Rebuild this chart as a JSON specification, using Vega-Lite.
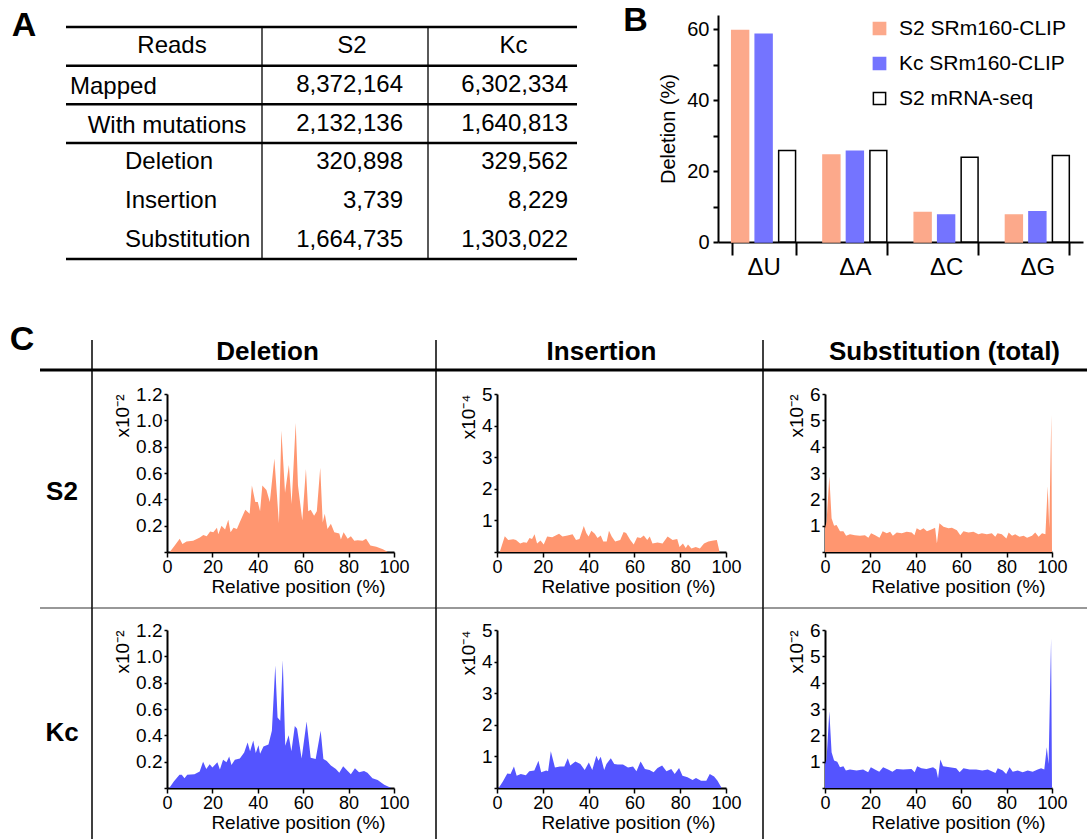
{
"$schema": "https://vega.github.io/schema/vega-lite/v6.json",
"padding": 0,
"background": "white",
"spacing": 0,
"config": {"view": {"stroke": "transparent"}, "font": "Liberation Sans", "axis": {"grid": false, "domainColor": "black", "tickColor": "black", "labelColor": "black", "titleColor": "black", "titleFontWeight": "normal", "labelFont": "Liberation Sans", "titleFont": "Liberation Sans"}, "legend": {"labelFont": "Liberation Sans", "labelColor": "black"}},
"datasets": {
"tableCols": [{"col": "Reads"}, {"col": "S2"}, {"col": "Kc"}],
"tableRows": [{"row": "Mapped", "level": 0}, {"row": "With mutations", "level": 1}, {"row": "Deletion", "level": 2}, {"row": "Insertion", "level": 2}, {"row": "Substitution", "level": 2}],
"tableCells": [{"row": "Mapped", "col": "S2", "reads": 8372164}, {"row": "Mapped", "col": "Kc", "reads": 6302334}, {"row": "With mutations", "col": "S2", "reads": 2132136}, {"row": "With mutations", "col": "Kc", "reads": 1640813}, {"row": "Deletion", "col": "S2", "reads": 320898}, {"row": "Deletion", "col": "Kc", "reads": 329562}, {"row": "Insertion", "col": "S2", "reads": 3739}, {"row": "Insertion", "col": "Kc", "reads": 8229}, {"row": "Substitution", "col": "S2", "reads": 1664735}, {"row": "Substitution", "col": "Kc", "reads": 1303022}],
"bars": [{"base": "ΔU", "sample": "S2 SRm160-CLIP", "deletion": 59.6}, {"base": "ΔU", "sample": "Kc SRm160-CLIP", "deletion": 58.6}, {"base": "ΔU", "sample": "S2 mRNA-seq", "deletion": 25.8}, {"base": "ΔA", "sample": "S2 SRm160-CLIP", "deletion": 24.5}, {"base": "ΔA", "sample": "Kc SRm160-CLIP", "deletion": 25.6}, {"base": "ΔA", "sample": "S2 mRNA-seq", "deletion": 25.8}, {"base": "ΔC", "sample": "S2 SRm160-CLIP", "deletion": 8.3}, {"base": "ΔC", "sample": "Kc SRm160-CLIP", "deletion": 7.6}, {"base": "ΔC", "sample": "S2 mRNA-seq", "deletion": 23.9}, {"base": "ΔG", "sample": "S2 SRm160-CLIP", "deletion": 7.6}, {"base": "ΔG", "sample": "Kc SRm160-CLIP", "deletion": 8.5}, {"base": "ΔG", "sample": "S2 mRNA-seq", "deletion": 24.4}],
"delS2": [{"pos":0,"val":0},{"pos":1.2,"val":0},{"pos":3,"val":0.04},{"pos":5.6,"val":0.1},{"pos":6.8,"val":0.06},{"pos":8.6,"val":0.08},{"pos":11.5,"val":0.085},{"pos":14.5,"val":0.11},{"pos":16,"val":0.13},{"pos":17.5,"val":0.12},{"pos":19,"val":0.155},{"pos":20.4,"val":0.15},{"pos":22,"val":0.185},{"pos":22.6,"val":0.135},{"pos":24,"val":0.2},{"pos":25.6,"val":0.17},{"pos":27,"val":0.245},{"pos":28,"val":0.15},{"pos":29.3,"val":0.185},{"pos":30.8,"val":0.175},{"pos":32,"val":0.225},{"pos":34.5,"val":0.32},{"pos":36.4,"val":0.29},{"pos":37.4,"val":0.505},{"pos":38.9,"val":0.38},{"pos":40,"val":0.38},{"pos":41,"val":0.31},{"pos":42,"val":0.505},{"pos":43.8,"val":0.47},{"pos":45.3,"val":0.38},{"pos":47.3,"val":0.71},{"pos":49.3,"val":0.22},{"pos":50.4,"val":0.92},{"pos":52,"val":0.45},{"pos":53.7,"val":0.66},{"pos":54.9,"val":0.365},{"pos":56.7,"val":0.98},{"pos":57.7,"val":0.505},{"pos":59.6,"val":0.24},{"pos":61.2,"val":0.63},{"pos":62.2,"val":0.31},{"pos":63.3,"val":0.32},{"pos":64.8,"val":0.275},{"pos":66,"val":0.31},{"pos":67.5,"val":0.64},{"pos":68.6,"val":0.225},{"pos":69.5,"val":0.29},{"pos":70.7,"val":0.175},{"pos":72.2,"val":0.215},{"pos":73.7,"val":0.15},{"pos":75.9,"val":0.14},{"pos":76.6,"val":0.095},{"pos":77.8,"val":0.15},{"pos":79.6,"val":0.1},{"pos":81,"val":0.12},{"pos":82.5,"val":0.085},{"pos":84,"val":0.09},{"pos":86.2,"val":0.085},{"pos":87.7,"val":0.1},{"pos":89.6,"val":0.05},{"pos":92.2,"val":0.04},{"pos":95.1,"val":0.02},{"pos":97.3,"val":0}],
"delKc": [{"pos":0,"val":0},{"pos":1,"val":0},{"pos":3,"val":0.05},{"pos":5.5,"val":0.1},{"pos":6.5,"val":0.1},{"pos":7.7,"val":0.075},{"pos":8.9,"val":0.1},{"pos":12.1,"val":0.105},{"pos":14.4,"val":0.125},{"pos":15.9,"val":0.2},{"pos":17.3,"val":0.145},{"pos":18.8,"val":0.18},{"pos":20,"val":0.155},{"pos":22.2,"val":0.195},{"pos":23.3,"val":0.14},{"pos":24.7,"val":0.215},{"pos":26.2,"val":0.195},{"pos":27.4,"val":0.24},{"pos":28.4,"val":0.175},{"pos":29.9,"val":0.215},{"pos":32.1,"val":0.225},{"pos":34,"val":0.27},{"pos":35.5,"val":0.345},{"pos":36.6,"val":0.28},{"pos":38,"val":0.36},{"pos":39.1,"val":0.265},{"pos":40.3,"val":0.325},{"pos":41,"val":0.26},{"pos":42.5,"val":0.315},{"pos":44.7,"val":0.33},{"pos":46.2,"val":0.435},{"pos":47.7,"val":0.93},{"pos":48.7,"val":0.535},{"pos":49.9,"val":0.51},{"pos":51,"val":0.97},{"pos":52.1,"val":0.32},{"pos":53.6,"val":0.4},{"pos":54.8,"val":0.28},{"pos":56.3,"val":0.47},{"pos":57.3,"val":0.45},{"pos":59.3,"val":0.225},{"pos":61.5,"val":0.505},{"pos":63.3,"val":0.23},{"pos":65.5,"val":0.22},{"pos":67.7,"val":0.435},{"pos":68.9,"val":0.22},{"pos":70.4,"val":0.205},{"pos":72.2,"val":0.17},{"pos":74.4,"val":0.145},{"pos":75.9,"val":0.115},{"pos":77.6,"val":0.165},{"pos":79.6,"val":0.13},{"pos":81,"val":0.105},{"pos":82.8,"val":0.15},{"pos":84.6,"val":0.12},{"pos":86.8,"val":0.13},{"pos":88.3,"val":0.115},{"pos":90.5,"val":0.075},{"pos":92.8,"val":0.06},{"pos":95.7,"val":0.025},{"pos":98.8,"val":0}],
"insS2": [{"pos":0,"val":0},{"pos":1.2,"val":0},{"pos":3.4,"val":0.5},{"pos":4.9,"val":0.38},{"pos":7.1,"val":0.4},{"pos":8.3,"val":0.38},{"pos":10.1,"val":0.27},{"pos":11.6,"val":0.31},{"pos":13,"val":0.29},{"pos":14.2,"val":0.44},{"pos":15.3,"val":0.41},{"pos":16.4,"val":0.56},{"pos":17.5,"val":0.27},{"pos":19,"val":0.36},{"pos":20.4,"val":0.24},{"pos":21.9,"val":0.49},{"pos":24.1,"val":0.47},{"pos":27.1,"val":0.58},{"pos":28.6,"val":0.49},{"pos":30.8,"val":0.52},{"pos":33,"val":0.56},{"pos":34.5,"val":0.38},{"pos":36,"val":0.41},{"pos":37.9,"val":0.82},{"pos":39,"val":0.6},{"pos":40,"val":0.49},{"pos":41.2,"val":0.67},{"pos":42.7,"val":0.58},{"pos":43.9,"val":0.44},{"pos":45.3,"val":0.52},{"pos":46.4,"val":0.33},{"pos":47.9,"val":0.33},{"pos":48.9,"val":0.67},{"pos":50.1,"val":0.49},{"pos":51.6,"val":0.33},{"pos":53.8,"val":0.38},{"pos":55.3,"val":0.63},{"pos":56.4,"val":0.6},{"pos":58.2,"val":0.38},{"pos":59.7,"val":0.24},{"pos":61.2,"val":0.47},{"pos":62.7,"val":0.44},{"pos":64.1,"val":0.52},{"pos":65.6,"val":0.38},{"pos":66.7,"val":0.49},{"pos":67.9,"val":0.27},{"pos":70.1,"val":0.3},{"pos":72.3,"val":0.27},{"pos":74.5,"val":0.49},{"pos":76.7,"val":0.38},{"pos":78.7,"val":0.41},{"pos":79.7,"val":0.16},{"pos":81.2,"val":0.27},{"pos":82.4,"val":0.13},{"pos":83.4,"val":0.24},{"pos":84.9,"val":0.11},{"pos":86.8,"val":0.16},{"pos":88.6,"val":0.11},{"pos":90.4,"val":0.27},{"pos":92.3,"val":0.33},{"pos":94.5,"val":0.36},{"pos":96,"val":0.38},{"pos":97.2,"val":0}],
"insKc": [{"pos":0,"val":0},{"pos":0.7,"val":0},{"pos":2.5,"val":0.2},{"pos":4.5,"val":0.46},{"pos":5.9,"val":0.44},{"pos":7.4,"val":0.68},{"pos":8.6,"val":0.39},{"pos":10.4,"val":0.44},{"pos":12.6,"val":0.4},{"pos":14.1,"val":0.53},{"pos":16.3,"val":0.55},{"pos":18.1,"val":0.86},{"pos":19.3,"val":0.5},{"pos":21.5,"val":0.55},{"pos":22.3,"val":0.53},{"pos":23.5,"val":1.16},{"pos":25.3,"val":0.65},{"pos":27.5,"val":0.68},{"pos":29.4,"val":0.68},{"pos":30.9,"val":0.94},{"pos":32,"val":0.71},{"pos":34.2,"val":0.84},{"pos":36.4,"val":0.76},{"pos":38.3,"val":0.57},{"pos":40.1,"val":0.81},{"pos":41.6,"val":0.57},{"pos":43.4,"val":1.02},{"pos":44.3,"val":0.86},{"pos":45.3,"val":0.99},{"pos":46.8,"val":0.57},{"pos":47.8,"val":0.76},{"pos":49.7,"val":0.94},{"pos":51.2,"val":0.76},{"pos":52.7,"val":0.74},{"pos":55,"val":0.74},{"pos":57.2,"val":0.65},{"pos":59.4,"val":0.68},{"pos":60.9,"val":0.53},{"pos":62.7,"val":0.84},{"pos":64.6,"val":0.6},{"pos":66.6,"val":0.57},{"pos":68.4,"val":0.5},{"pos":70.1,"val":0.63},{"pos":72.1,"val":0.71},{"pos":74,"val":0.53},{"pos":76.1,"val":0.6},{"pos":77.6,"val":0.44},{"pos":79.5,"val":0.63},{"pos":81,"val":0.39},{"pos":83.2,"val":0.34},{"pos":85.4,"val":0.25},{"pos":86.9,"val":0.32},{"pos":89.1,"val":0.23},{"pos":91.4,"val":0.23},{"pos":92.9,"val":0.44},{"pos":94.8,"val":0.36},{"pos":96.3,"val":0.23},{"pos":98.1,"val":0}],
"subS2": [{"pos":0,"val":0.9},{"pos":0.7,"val":1.15},{"pos":1.9,"val":2.88},{"pos":2.9,"val":1.28},{"pos":4,"val":1},{"pos":5.1,"val":1.03},{"pos":6.6,"val":0.79},{"pos":8.1,"val":0.79},{"pos":9.3,"val":0.62},{"pos":11,"val":0.67},{"pos":13.2,"val":0.64},{"pos":15.4,"val":0.62},{"pos":17.6,"val":0.64},{"pos":19.1,"val":0.54},{"pos":20.3,"val":0.71},{"pos":22.1,"val":0.64},{"pos":24,"val":0.54},{"pos":25.4,"val":0.79},{"pos":27.2,"val":0.71},{"pos":28.7,"val":0.77},{"pos":29.9,"val":0.62},{"pos":31.6,"val":0.74},{"pos":33.8,"val":0.71},{"pos":36,"val":0.77},{"pos":38.2,"val":0.74},{"pos":39.4,"val":0.64},{"pos":40.4,"val":0.9},{"pos":41.9,"val":0.83},{"pos":43.4,"val":0.9},{"pos":44.9,"val":0.79},{"pos":47.1,"val":0.86},{"pos":48.5,"val":0.92},{"pos":49.3,"val":0.32},{"pos":50.4,"val":1.09},{"pos":52.2,"val":0.96},{"pos":54.4,"val":0.9},{"pos":55.9,"val":0.92},{"pos":58.1,"val":0.83},{"pos":59.6,"val":0.64},{"pos":61,"val":0.79},{"pos":63.2,"val":0.74},{"pos":65.4,"val":0.77},{"pos":67.6,"val":0.67},{"pos":69.1,"val":0.71},{"pos":71.3,"val":0.67},{"pos":73.5,"val":0.71},{"pos":75,"val":0.58},{"pos":76,"val":0.71},{"pos":77.9,"val":0.67},{"pos":79.9,"val":0.51},{"pos":80.9,"val":0.74},{"pos":82.4,"val":0.62},{"pos":83.8,"val":0.67},{"pos":85.7,"val":0.58},{"pos":87.5,"val":0.62},{"pos":89,"val":0.54},{"pos":91.2,"val":0.62},{"pos":92.6,"val":0.74},{"pos":94.1,"val":0.58},{"pos":95.6,"val":0.71},{"pos":97.1,"val":0.67},{"pos":98.1,"val":2.5},{"pos":98.8,"val":0.9},{"pos":99.7,"val":5.2},{"pos":100,"val":0}],
"subKc": [{"pos":0,"val":0.9},{"pos":0.7,"val":1.1},{"pos":1.9,"val":2.91},{"pos":2.9,"val":1.36},{"pos":4,"val":1.04},{"pos":5.4,"val":1},{"pos":6.6,"val":0.79},{"pos":8.1,"val":0.83},{"pos":9.2,"val":0.66},{"pos":11,"val":0.7},{"pos":13.9,"val":0.66},{"pos":16.8,"val":0.7},{"pos":19,"val":0.6},{"pos":20.2,"val":0.79},{"pos":22,"val":0.7},{"pos":23.9,"val":0.62},{"pos":25.6,"val":0.79},{"pos":27.8,"val":0.7},{"pos":29.7,"val":0.62},{"pos":31.5,"val":0.72},{"pos":34.4,"val":0.7},{"pos":38.1,"val":0.72},{"pos":39.5,"val":0.6},{"pos":40.6,"val":0.83},{"pos":42.5,"val":0.75},{"pos":44.7,"val":0.72},{"pos":47.6,"val":0.79},{"pos":49,"val":0.7},{"pos":49.8,"val":0.37},{"pos":50.8,"val":1.08},{"pos":52,"val":0.83},{"pos":54.9,"val":0.79},{"pos":57.8,"val":0.75},{"pos":59.3,"val":0.6},{"pos":61,"val":0.75},{"pos":63.7,"val":0.7},{"pos":66.6,"val":0.7},{"pos":69.3,"val":0.66},{"pos":71.7,"val":0.7},{"pos":73.9,"val":0.62},{"pos":75.1,"val":0.57},{"pos":76.1,"val":0.75},{"pos":78.3,"val":0.66},{"pos":79.8,"val":0.53},{"pos":81.3,"val":0.79},{"pos":82.7,"val":0.62},{"pos":84.9,"val":0.66},{"pos":87.1,"val":0.6},{"pos":89.3,"val":0.66},{"pos":91.5,"val":0.62},{"pos":93.7,"val":0.7},{"pos":95.2,"val":0.75},{"pos":96.6,"val":0.7},{"pos":97.7,"val":1.55},{"pos":98.5,"val":0.91},{"pos":99.6,"val":5.68},{"pos":100,"val":0}]
},
"vconcat": [
{"columns": 6, "spacing": 0, "bounds": "flush", "concat": [
{"width": 66, "height": 15, "data": {"values": [{"panel": "A"}]}, "mark": {"type": "text", "fontSize": 34, "fontWeight": "bold", "dx": -9, "dy": 18}, "encoding": {"text": {"field": "panel"}}},
{"width": 196, "height": 15, "data": {"values": []}, "mark": "point"},
{"width": 166, "height": 15, "data": {"values": []}, "mark": "point"},
{"width": 149, "height": 15, "data": {"values": []}, "mark": "point"},
{"width": 141, "height": 15, "data": {"values": [{"panel": "B"}]}, "mark": {"type": "text", "fontSize": 34, "fontWeight": "bold", "dx": -12, "dy": 13}, "encoding": {"text": {"field": "panel"}}},
{"width": 365, "height": 15, "data": {"values": []}, "mark": "point"},

{"width": 66, "height": 305, "data": {"values": []}, "mark": "point"},
{"width": 196, "height": 244, "layer": [
  {"data": {"name": "tableCols"}, "transform": [{"filter": "datum.col == 'Reads'"}], "mark": {"type": "text", "fontSize": 24, "dx": 8}, "encoding": {"y": {"field": "col", "type": "nominal", "scale": {"domain": ["Reads", "Mapped", "With mutations", "Deletion", "Insertion", "Substitution"], "paddingInner": 0, "paddingOuter": 0.155, "align": 1}, "axis": null}, "text": {"field": "col"}}},
  {"data": {"name": "tableRows"}, "transform": [{"filter": "datum.level == 0"}], "mark": {"type": "text", "fontSize": 24, "align": "left", "dx": 4, "dy": 2}, "encoding": {"x": {"datum": 0, "type": "quantitative", "scale": {"domain": [0, 1]}, "axis": null}, "y": {"field": "row", "type": "nominal", "axis": null}, "text": {"field": "row"}}},
  {"data": {"name": "tableRows"}, "transform": [{"filter": "datum.level == 1"}], "mark": {"type": "text", "fontSize": 24, "dx": 3, "dy": 2}, "encoding": {"y": {"field": "row", "type": "nominal", "axis": null}, "text": {"field": "row"}}},
  {"data": {"name": "tableRows"}, "transform": [{"filter": "datum.level == 2"}], "mark": {"type": "text", "fontSize": 24, "align": "left", "dx": 59}, "encoding": {"x": {"datum": 0, "type": "quantitative", "axis": null}, "y": {"field": "row", "type": "nominal", "axis": null}, "text": {"field": "row"}}},
  {"data": {"name": "tableRows"}, "transform": [{"filter": "datum.level <= 1 || datum.row == 'Deletion'"}], "mark": {"type": "rule", "color": "black", "strokeWidth": 2.5}, "encoding": {"y": {"field": "row", "type": "nominal", "bandPosition": 0, "axis": null}}},
  {"data": {"name": "tableCols"}, "transform": [{"filter": "datum.col == 'Reads'"}], "mark": {"type": "rule", "color": "black", "strokeWidth": 2.5}, "encoding": {"y": {"field": "col", "type": "nominal", "bandPosition": 0, "axis": null}}},
  {"data": {"name": "tableRows"}, "transform": [{"filter": "datum.row == 'Substitution'"}], "mark": {"type": "rule", "color": "black", "strokeWidth": 2.5}, "encoding": {"y": {"field": "row", "type": "nominal", "bandPosition": 1, "axis": null}}}
]},
{"width": 166, "height": 244, "layer": [
  {"data": {"name": "tableCols"}, "transform": [{"filter": "datum.col == 'S2'"}], "mark": {"type": "text", "fontSize": 24, "dx": 7}, "encoding": {"y": {"datum": "Reads", "type": "nominal", "scale": {"domain": ["Reads", "Mapped", "With mutations", "Deletion", "Insertion", "Substitution"], "paddingInner": 0, "paddingOuter": 0.155, "align": 1}, "axis": null}, "text": {"field": "col"}}},
  {"data": {"name": "tableCells"}, "transform": [{"filter": {"field": "col", "equal": "S2"}}], "mark": {"type": "text", "fontSize": 24, "align": "right", "dx": -25}, "encoding": {"x": {"datum": 1, "type": "quantitative", "scale": {"domain": [0, 1]}, "axis": null}, "y": {"field": "row", "type": "nominal", "axis": null}, "text": {"field": "reads", "type": "quantitative", "format": ","}}},
  {"data": {"name": "tableRows"}, "transform": [{"filter": "datum.level <= 1 || datum.row == 'Deletion'"}], "mark": {"type": "rule", "color": "black", "strokeWidth": 2.5}, "encoding": {"y": {"field": "row", "type": "nominal", "bandPosition": 0, "axis": null}}},
  {"data": {"name": "tableCols"}, "transform": [{"filter": "datum.col == 'Reads'"}], "mark": {"type": "rule", "color": "black", "strokeWidth": 2.5}, "encoding": {"y": {"field": "col", "type": "nominal", "bandPosition": 0, "axis": null}}},
  {"data": {"name": "tableRows"}, "transform": [{"filter": "datum.row == 'Substitution'"}], "mark": {"type": "rule", "color": "black", "strokeWidth": 2.5}, "encoding": {"y": {"field": "row", "type": "nominal", "bandPosition": 1, "axis": null}}},
  {"data": {"values": [{}]}, "mark": {"type": "rule", "color": "black", "strokeWidth": 1.3}, "encoding": {"x": {"datum": 0, "type": "quantitative", "axis": null}, "y": {"datum": "Reads", "type": "nominal", "bandPosition": 0, "axis": null}, "y2": {"datum": "Substitution", "bandPosition": 1}}}
]},
{"width": 149, "height": 244, "layer": [
  {"data": {"name": "tableCols"}, "transform": [{"filter": "datum.col == 'Kc'"}], "mark": {"type": "text", "fontSize": 24, "dx": 11}, "encoding": {"y": {"datum": "Reads", "type": "nominal", "scale": {"domain": ["Reads", "Mapped", "With mutations", "Deletion", "Insertion", "Substitution"], "paddingInner": 0, "paddingOuter": 0.155, "align": 1}, "axis": null}, "text": {"field": "col"}}},
  {"data": {"name": "tableCells"}, "transform": [{"filter": {"field": "col", "equal": "Kc"}}], "mark": {"type": "text", "fontSize": 24, "align": "right", "dx": -9}, "encoding": {"x": {"datum": 1, "type": "quantitative", "scale": {"domain": [0, 1]}, "axis": null}, "y": {"field": "row", "type": "nominal", "axis": null}, "text": {"field": "reads", "type": "quantitative", "format": ","}}},
  {"data": {"name": "tableRows"}, "transform": [{"filter": "datum.level <= 1 || datum.row == 'Deletion'"}], "mark": {"type": "rule", "color": "black", "strokeWidth": 2.5}, "encoding": {"y": {"field": "row", "type": "nominal", "bandPosition": 0, "axis": null}}},
  {"data": {"name": "tableCols"}, "transform": [{"filter": "datum.col == 'Reads'"}], "mark": {"type": "rule", "color": "black", "strokeWidth": 2.5}, "encoding": {"y": {"field": "col", "type": "nominal", "bandPosition": 0, "axis": null}}},
  {"data": {"name": "tableRows"}, "transform": [{"filter": "datum.row == 'Substitution'"}], "mark": {"type": "rule", "color": "black", "strokeWidth": 2.5}, "encoding": {"y": {"field": "row", "type": "nominal", "bandPosition": 1, "axis": null}}},
  {"data": {"values": [{}]}, "mark": {"type": "rule", "color": "black", "strokeWidth": 1.3}, "encoding": {"x": {"datum": 0, "type": "quantitative", "axis": null}, "y": {"datum": "Reads", "type": "nominal", "bandPosition": 0, "axis": null}, "y2": {"datum": "Substitution", "bandPosition": 1}}}
]},
{"width": 141, "height": 305, "data": {"values": []}, "mark": "point"},
{"width": 365, "height": 227, "data": {"name": "bars"}, "mark": {"type": "bar", "strokeWidth": 1.5},
 "encoding": {
   "x": {"field": "base", "type": "nominal", "sort": null, "scale": {"domain": ["ΔU", "ΔA", "ΔC", "ΔG"], "paddingInner": 0.3, "paddingOuter": 0.15}, "axis": {"title": null, "labelAngle": 0, "tickBand": "extent", "tickSize": 13, "tickWidth": 2, "domainWidth": 2, "labelFontSize": 24, "labelPadding": 0}},
   "xOffset": {"field": "sample", "type": "nominal", "sort": null, "scale": {"domain": ["S2 SRm160-CLIP", "Kc SRm160-CLIP", "S2 mRNA-seq"], "paddingInner": 0.28, "paddingOuter": 0}},
   "y": {"field": "deletion", "type": "quantitative", "scale": {"domain": [0, 64], "nice": false}, "axis": {"values": [0, 10, 20, 30, 40, 50, 60], "labelExpr": "datum.value % 20 == 0 ? datum.label : ''", "title": "Deletion (%)", "titleFontSize": 20, "titlePadding": 8, "labelFontSize": 20, "labelPadding": 4, "tickSize": 5, "tickWidth": 2, "domainWidth": 2}},
   "color": {"field": "sample", "type": "nominal", "sort": null, "scale": {"domain": ["S2 SRm160-CLIP", "Kc SRm160-CLIP", "S2 mRNA-seq"], "range": ["#FCA98B", "#7474FF", "#FFFFFF"]}, "legend": {"title": null, "orient": "none", "legendX": 869, "legendY": 18, "symbolType": "square", "symbolSize": 150, "symbolStrokeWidth": 1.5, "labelFontSize": 21, "labelLimit": 400, "labelOffset": 9, "rowPadding": 13, "padding": 0}},
   "stroke": {"field": "sample", "type": "nominal", "sort": null, "scale": {"domain": ["S2 SRm160-CLIP", "Kc SRm160-CLIP", "S2 mRNA-seq"], "range": ["#FCA98B", "#7474FF", "#000000"]}, "legend": {"title": null, "orient": "none", "legendX": 869, "legendY": 18, "symbolType": "square", "symbolSize": 150, "symbolStrokeWidth": 1.5, "labelFontSize": 21, "labelLimit": 400, "labelOffset": 9, "rowPadding": 13, "padding": 0}}
 }}
]},
{"columns": 11, "spacing": 0, "bounds": "flush", "concat": [
{"width": 40, "height": 20, "data": {"values": [{"panel": "C"}]}, "mark": {"type": "text", "fontSize": 34, "fontWeight": "bold", "dx": 2, "dy": 10}, "encoding": {"text": {"field": "panel"}}},
{"width": 52, "height": 20, "data": {"values": []}, "mark": "point"},
{"width": 75, "height": 20, "data": {"values": []}, "mark": "point"},
{"width": 227, "height": 20, "data": {"values": []}, "mark": "point"},
{"width": 42, "height": 20, "data": {"values": []}, "mark": "point"},
{"width": 61, "height": 20, "data": {"values": []}, "mark": "point"},
{"width": 229, "height": 20, "data": {"values": []}, "mark": "point"},
{"width": 37, "height": 20, "data": {"values": []}, "mark": "point"},
{"width": 62, "height": 20, "data": {"values": []}, "mark": "point"},
{"width": 227, "height": 20, "data": {"values": []}, "mark": "point"},
{"width": 35, "height": 20, "data": {"values": []}, "mark": "point"},

{"width": 40, "height": 30, "data": {"values": []}, "mark": "point"},
{"width": 52, "height": 30, "data": {"values": [{}]}, "mark": {"type": "rule", "color": "black", "strokeWidth": 3}, "encoding": {"y": {"datum": 0, "type": "quantitative", "scale": {"domain": [0, 1]}, "axis": null}}},
{"width": 75, "height": 30, "data": {"values": [{}]}, "layer": [
  {"mark": {"type": "rule", "color": "black", "strokeWidth": 1.5}, "encoding": {"x": {"datum": 0, "type": "quantitative", "scale": {"domain": [0, 1]}, "axis": null}}},
  {"mark": {"type": "rule", "color": "black", "strokeWidth": 3}, "encoding": {"y": {"datum": 0, "type": "quantitative", "scale": {"domain": [0, 1]}, "axis": null}}}
]},
{"width": 227, "height": 30, "data": {"values": [{"type": "Deletion"}]}, "layer": [
  {"mark": {"type": "text", "fontSize": 26, "fontWeight": "bold", "dx": -13, "dy": -3}, "encoding": {"text": {"field": "type"}}},
  {"mark": {"type": "rule", "color": "black", "strokeWidth": 3}, "encoding": {"y": {"datum": 0, "type": "quantitative", "scale": {"domain": [0, 1]}, "axis": null}}}
]},
{"width": 42, "height": 30, "data": {"values": [{}]}, "mark": {"type": "rule", "color": "black", "strokeWidth": 3}, "encoding": {"y": {"datum": 0, "type": "quantitative", "scale": {"domain": [0, 1]}, "axis": null}}},
{"width": 61, "height": 30, "data": {"values": [{}]}, "layer": [
  {"mark": {"type": "rule", "color": "black", "strokeWidth": 1.5}, "encoding": {"x": {"datum": 0, "type": "quantitative", "scale": {"domain": [0, 1]}, "axis": null}}},
  {"mark": {"type": "rule", "color": "black", "strokeWidth": 3}, "encoding": {"y": {"datum": 0, "type": "quantitative", "scale": {"domain": [0, 1]}, "axis": null}}}
]},
{"width": 229, "height": 30, "data": {"values": [{"type": "Insertion"}]}, "layer": [
  {"mark": {"type": "text", "fontSize": 26, "fontWeight": "bold", "dx": -10, "dy": -3}, "encoding": {"text": {"field": "type"}}},
  {"mark": {"type": "rule", "color": "black", "strokeWidth": 3}, "encoding": {"y": {"datum": 0, "type": "quantitative", "scale": {"domain": [0, 1]}, "axis": null}}}
]},
{"width": 37, "height": 30, "data": {"values": [{}]}, "mark": {"type": "rule", "color": "black", "strokeWidth": 3}, "encoding": {"y": {"datum": 0, "type": "quantitative", "scale": {"domain": [0, 1]}, "axis": null}}},
{"width": 62, "height": 30, "data": {"values": [{}]}, "layer": [
  {"mark": {"type": "rule", "color": "black", "strokeWidth": 1.5}, "encoding": {"x": {"datum": 0, "type": "quantitative", "scale": {"domain": [0, 1]}, "axis": null}}},
  {"mark": {"type": "rule", "color": "black", "strokeWidth": 3}, "encoding": {"y": {"datum": 0, "type": "quantitative", "scale": {"domain": [0, 1]}, "axis": null}}}
]},
{"width": 227, "height": 30, "data": {"values": [{"type": "Substitution (total)"}]}, "layer": [
  {"mark": {"type": "text", "fontSize": 26, "fontWeight": "bold", "dx": 6, "dy": -3}, "encoding": {"text": {"field": "type"}}},
  {"mark": {"type": "rule", "color": "black", "strokeWidth": 3}, "encoding": {"y": {"datum": 0, "type": "quantitative", "scale": {"domain": [0, 1]}, "axis": null}}}
]},
{"width": 35, "height": 30, "data": {"values": [{}]}, "mark": {"type": "rule", "color": "black", "strokeWidth": 3}, "encoding": {"y": {"datum": 0, "type": "quantitative", "scale": {"domain": [0, 1]}, "axis": null}}},

{"width": 40, "height": 24, "data": {"values": []}, "mark": "point"},
{"width": 52, "height": 24, "data": {"values": []}, "mark": "point"},
{"width": 75, "height": 24, "data": {"values": [{}]}, "mark": {"type": "rule", "color": "black", "strokeWidth": 1.5}, "encoding": {"x": {"datum": 0, "type": "quantitative", "scale": {"domain": [0, 1]}, "axis": null}}},
{"width": 227, "height": 24, "data": {"values": []}, "mark": "point"},
{"width": 42, "height": 24, "data": {"values": []}, "mark": "point"},
{"width": 61, "height": 24, "data": {"values": [{}]}, "mark": {"type": "rule", "color": "black", "strokeWidth": 1.5}, "encoding": {"x": {"datum": 0, "type": "quantitative", "scale": {"domain": [0, 1]}, "axis": null}}},
{"width": 229, "height": 24, "data": {"values": []}, "mark": "point"},
{"width": 37, "height": 24, "data": {"values": []}, "mark": "point"},
{"width": 62, "height": 24, "data": {"values": [{}]}, "mark": {"type": "rule", "color": "black", "strokeWidth": 1.5}, "encoding": {"x": {"datum": 0, "type": "quantitative", "scale": {"domain": [0, 1]}, "axis": null}}},
{"width": 227, "height": 24, "data": {"values": []}, "mark": "point"},
{"width": 35, "height": 24, "data": {"values": []}, "mark": "point"},

{"width": 40, "height": 158, "data": {"values": []}, "mark": "point"},
{"width": 52, "height": 158, "data": {"values": [{"cell": "S2"}]}, "mark": {"type": "text", "fontSize": 26, "fontWeight": "bold", "dx": -4, "dy": 19}, "encoding": {"text": {"field": "cell"}}},
{"width": 75, "height": 158, "data": {"values": [{}]}, "mark": {"type": "rule", "color": "black", "strokeWidth": 1.5}, "encoding": {"x": {"datum": 0, "type": "quantitative", "scale": {"domain": [0, 1]}, "axis": null}}},
{"width": 227, "height": 158, "data": {"name": "delS2"}, "mark": {"type": "area", "color": "#FF9670"},
 "encoding": {
   "x": {"field": "pos", "type": "quantitative", "scale": {"domain": [0, 100], "nice": false}, "axis": {"values": [0, 20, 40, 60, 80, 100], "title": "Relative position (%)", "titleX": 131, "labelFlush": false, "labelOverlap": false, "labelFontSize": 18, "titleFontSize": 19, "tickSize": 5, "tickWidth": 1.5, "domainWidth": 2, "labelPadding": 1, "titlePadding": 1}},
   "y": {"field": "val", "type": "quantitative", "scale": {"domain": [0, 1.2], "nice": false}, "axis": {"values": [0, 0.2, 0.4, 0.6, 0.8, 1.0, 1.2], "labelExpr": "datum.value == 0 ? '' : format(datum.value, '.1f')", "title": "x10⁻²", "titleFontSize": 19, "titleAnchor": "end", "titlePadding": 3, "labelFontSize": 19, "labelPadding": 2, "tickSize": 3, "tickWidth": 1.5, "domainWidth": 2, "labelOverlap": false}}
 }},
{"width": 42, "height": 158, "data": {"values": []}, "mark": "point"},
{"width": 61, "height": 158, "data": {"values": [{}]}, "mark": {"type": "rule", "color": "black", "strokeWidth": 1.5}, "encoding": {"x": {"datum": 0, "type": "quantitative", "scale": {"domain": [0, 1]}, "axis": null}}},
{"width": 229, "height": 158, "data": {"name": "insS2"}, "mark": {"type": "area", "color": "#FF9670"},
 "encoding": {
   "x": {"field": "pos", "type": "quantitative", "scale": {"domain": [0, 100], "nice": false}, "axis": {"values": [0, 20, 40, 60, 80, 100], "title": "Relative position (%)", "titleX": 131, "labelFlush": false, "labelOverlap": false, "labelFontSize": 18, "titleFontSize": 19, "tickSize": 5, "tickWidth": 1.5, "domainWidth": 2, "labelPadding": 1, "titlePadding": 1}},
   "y": {"field": "val", "type": "quantitative", "scale": {"domain": [0, 5], "nice": false}, "axis": {"values": [0, 1, 2, 3, 4, 5], "labelExpr": "datum.value == 0 ? '' : datum.label", "title": "x10⁻⁴", "titleFontSize": 19, "titleAnchor": "end", "titlePadding": 3, "labelFontSize": 19, "labelPadding": 2, "tickSize": 3, "tickWidth": 1.5, "domainWidth": 2, "labelOverlap": false}}
 }},
{"width": 37, "height": 158, "data": {"values": []}, "mark": "point"},
{"width": 62, "height": 158, "data": {"values": [{}]}, "mark": {"type": "rule", "color": "black", "strokeWidth": 1.5}, "encoding": {"x": {"datum": 0, "type": "quantitative", "scale": {"domain": [0, 1]}, "axis": null}}},
{"width": 227, "height": 158, "data": {"name": "subS2"}, "mark": {"type": "area", "color": "#FF9670"},
 "encoding": {
   "x": {"field": "pos", "type": "quantitative", "scale": {"domain": [0, 100], "nice": false}, "axis": {"values": [0, 20, 40, 60, 80, 100], "title": "Relative position (%)", "titleX": 133, "labelFlush": false, "labelOverlap": false, "labelFontSize": 18, "titleFontSize": 19, "tickSize": 5, "tickWidth": 1.5, "domainWidth": 2, "labelPadding": 1, "titlePadding": 1}},
   "y": {"field": "val", "type": "quantitative", "scale": {"domain": [0, 6], "nice": false}, "axis": {"values": [0, 1, 2, 3, 4, 5, 6], "labelExpr": "datum.value == 0 ? '' : datum.label", "title": "x10⁻²", "titleFontSize": 19, "titleAnchor": "end", "titlePadding": 3, "labelFontSize": 19, "labelPadding": 2, "tickSize": 3, "tickWidth": 1.5, "domainWidth": 2, "labelOverlap": false}}
 }},
{"width": 35, "height": 158, "data": {"values": []}, "mark": "point"},

{"width": 40, "height": 56, "data": {"values": []}, "mark": "point"},
{"width": 52, "height": 56, "data": {"values": [{}]}, "mark": {"type": "rule", "color": "#333333", "strokeWidth": 1.2}, "encoding": {"y": {"datum": 0, "type": "quantitative", "scale": {"domain": [0, 1]}, "axis": null}}},
{"width": 75, "height": 56, "data": {"values": [{}]}, "layer": [
  {"mark": {"type": "rule", "color": "black", "strokeWidth": 1.5}, "encoding": {"x": {"datum": 0, "type": "quantitative", "scale": {"domain": [0, 1]}, "axis": null}}},
  {"mark": {"type": "rule", "color": "#333333", "strokeWidth": 1.2}, "encoding": {"y": {"datum": 0, "type": "quantitative", "scale": {"domain": [0, 1]}, "axis": null}}}
]},
{"width": 227, "height": 56, "data": {"values": [{}]}, "mark": {"type": "rule", "color": "#333333", "strokeWidth": 1.2}, "encoding": {"y": {"datum": 0, "type": "quantitative", "scale": {"domain": [0, 1]}, "axis": null}}},
{"width": 42, "height": 56, "data": {"values": [{}]}, "mark": {"type": "rule", "color": "#333333", "strokeWidth": 1.2}, "encoding": {"y": {"datum": 0, "type": "quantitative", "scale": {"domain": [0, 1]}, "axis": null}}},
{"width": 61, "height": 56, "data": {"values": [{}]}, "layer": [
  {"mark": {"type": "rule", "color": "black", "strokeWidth": 1.5}, "encoding": {"x": {"datum": 0, "type": "quantitative", "scale": {"domain": [0, 1]}, "axis": null}}},
  {"mark": {"type": "rule", "color": "#333333", "strokeWidth": 1.2}, "encoding": {"y": {"datum": 0, "type": "quantitative", "scale": {"domain": [0, 1]}, "axis": null}}}
]},
{"width": 229, "height": 56, "data": {"values": [{}]}, "mark": {"type": "rule", "color": "#333333", "strokeWidth": 1.2}, "encoding": {"y": {"datum": 0, "type": "quantitative", "scale": {"domain": [0, 1]}, "axis": null}}},
{"width": 37, "height": 56, "data": {"values": [{}]}, "mark": {"type": "rule", "color": "#333333", "strokeWidth": 1.2}, "encoding": {"y": {"datum": 0, "type": "quantitative", "scale": {"domain": [0, 1]}, "axis": null}}},
{"width": 62, "height": 56, "data": {"values": [{}]}, "layer": [
  {"mark": {"type": "rule", "color": "black", "strokeWidth": 1.5}, "encoding": {"x": {"datum": 0, "type": "quantitative", "scale": {"domain": [0, 1]}, "axis": null}}},
  {"mark": {"type": "rule", "color": "#333333", "strokeWidth": 1.2}, "encoding": {"y": {"datum": 0, "type": "quantitative", "scale": {"domain": [0, 1]}, "axis": null}}}
]},
{"width": 227, "height": 56, "data": {"values": [{}]}, "mark": {"type": "rule", "color": "#333333", "strokeWidth": 1.2}, "encoding": {"y": {"datum": 0, "type": "quantitative", "scale": {"domain": [0, 1]}, "axis": null}}},
{"width": 35, "height": 56, "data": {"values": [{}]}, "mark": {"type": "rule", "color": "#333333", "strokeWidth": 1.2}, "encoding": {"y": {"datum": 0, "type": "quantitative", "scale": {"domain": [0, 1]}, "axis": null}}},

{"width": 40, "height": 22, "data": {"values": []}, "mark": "point"},
{"width": 52, "height": 22, "data": {"values": []}, "mark": "point"},
{"width": 75, "height": 22, "data": {"values": [{}]}, "mark": {"type": "rule", "color": "black", "strokeWidth": 1.5}, "encoding": {"x": {"datum": 0, "type": "quantitative", "scale": {"domain": [0, 1]}, "axis": null}}},
{"width": 227, "height": 22, "data": {"values": []}, "mark": "point"},
{"width": 42, "height": 22, "data": {"values": []}, "mark": "point"},
{"width": 61, "height": 22, "data": {"values": [{}]}, "mark": {"type": "rule", "color": "black", "strokeWidth": 1.5}, "encoding": {"x": {"datum": 0, "type": "quantitative", "scale": {"domain": [0, 1]}, "axis": null}}},
{"width": 229, "height": 22, "data": {"values": []}, "mark": "point"},
{"width": 37, "height": 22, "data": {"values": []}, "mark": "point"},
{"width": 62, "height": 22, "data": {"values": [{}]}, "mark": {"type": "rule", "color": "black", "strokeWidth": 1.5}, "encoding": {"x": {"datum": 0, "type": "quantitative", "scale": {"domain": [0, 1]}, "axis": null}}},
{"width": 227, "height": 22, "data": {"values": []}, "mark": "point"},
{"width": 35, "height": 22, "data": {"values": []}, "mark": "point"},

{"width": 40, "height": 158, "data": {"values": []}, "mark": "point"},
{"width": 52, "height": 158, "data": {"values": [{"cell": "Kc"}]}, "mark": {"type": "text", "fontSize": 26, "fontWeight": "bold", "dx": -4, "dy": 24}, "encoding": {"text": {"field": "cell"}}},
{"width": 75, "height": 158, "data": {"values": [{}]}, "mark": {"type": "rule", "color": "black", "strokeWidth": 1.5}, "encoding": {"x": {"datum": 0, "type": "quantitative", "scale": {"domain": [0, 1]}, "axis": null}}},
{"width": 227, "height": 158, "data": {"name": "delKc"}, "mark": {"type": "area", "color": "#5454FF"},
 "encoding": {
   "x": {"field": "pos", "type": "quantitative", "scale": {"domain": [0, 100], "nice": false}, "axis": {"values": [0, 20, 40, 60, 80, 100], "title": "Relative position (%)", "titleX": 131, "labelFlush": false, "labelOverlap": false, "labelFontSize": 18, "titleFontSize": 19, "tickSize": 5, "tickWidth": 1.5, "domainWidth": 2, "labelPadding": 1, "titlePadding": 1}},
   "y": {"field": "val", "type": "quantitative", "scale": {"domain": [0, 1.2], "nice": false}, "axis": {"values": [0, 0.2, 0.4, 0.6, 0.8, 1.0, 1.2], "labelExpr": "datum.value == 0 ? '' : format(datum.value, '.1f')", "title": "x10⁻²", "titleFontSize": 19, "titleAnchor": "end", "titlePadding": 3, "labelFontSize": 19, "labelPadding": 2, "tickSize": 3, "tickWidth": 1.5, "domainWidth": 2, "labelOverlap": false}}
 }},
{"width": 42, "height": 158, "data": {"values": []}, "mark": "point"},
{"width": 61, "height": 158, "data": {"values": [{}]}, "mark": {"type": "rule", "color": "black", "strokeWidth": 1.5}, "encoding": {"x": {"datum": 0, "type": "quantitative", "scale": {"domain": [0, 1]}, "axis": null}}},
{"width": 229, "height": 158, "data": {"name": "insKc"}, "mark": {"type": "area", "color": "#5454FF"},
 "encoding": {
   "x": {"field": "pos", "type": "quantitative", "scale": {"domain": [0, 100], "nice": false}, "axis": {"values": [0, 20, 40, 60, 80, 100], "title": "Relative position (%)", "titleX": 131, "labelFlush": false, "labelOverlap": false, "labelFontSize": 18, "titleFontSize": 19, "tickSize": 5, "tickWidth": 1.5, "domainWidth": 2, "labelPadding": 1, "titlePadding": 1}},
   "y": {"field": "val", "type": "quantitative", "scale": {"domain": [0, 5], "nice": false}, "axis": {"values": [0, 1, 2, 3, 4, 5], "labelExpr": "datum.value == 0 ? '' : datum.label", "title": "x10⁻⁴", "titleFontSize": 19, "titleAnchor": "end", "titlePadding": 3, "labelFontSize": 19, "labelPadding": 2, "tickSize": 3, "tickWidth": 1.5, "domainWidth": 2, "labelOverlap": false}}
 }},
{"width": 37, "height": 158, "data": {"values": []}, "mark": "point"},
{"width": 62, "height": 158, "data": {"values": [{}]}, "mark": {"type": "rule", "color": "black", "strokeWidth": 1.5}, "encoding": {"x": {"datum": 0, "type": "quantitative", "scale": {"domain": [0, 1]}, "axis": null}}},
{"width": 227, "height": 158, "data": {"name": "subKc"}, "mark": {"type": "area", "color": "#5454FF"},
 "encoding": {
   "x": {"field": "pos", "type": "quantitative", "scale": {"domain": [0, 100], "nice": false}, "axis": {"values": [0, 20, 40, 60, 80, 100], "title": "Relative position (%)", "titleX": 133, "labelFlush": false, "labelOverlap": false, "labelFontSize": 18, "titleFontSize": 19, "tickSize": 5, "tickWidth": 1.5, "domainWidth": 2, "labelPadding": 1, "titlePadding": 1}},
   "y": {"field": "val", "type": "quantitative", "scale": {"domain": [0, 6], "nice": false}, "axis": {"values": [0, 1, 2, 3, 4, 5, 6], "labelExpr": "datum.value == 0 ? '' : datum.label", "title": "x10⁻²", "titleFontSize": 19, "titleAnchor": "end", "titlePadding": 3, "labelFontSize": 19, "labelPadding": 2, "tickSize": 3, "tickWidth": 1.5, "domainWidth": 2, "labelOverlap": false}}
 }},
{"width": 35, "height": 158, "data": {"values": []}, "mark": "point"},

{"width": 40, "height": 51, "data": {"values": []}, "mark": "point"},
{"width": 52, "height": 51, "data": {"values": []}, "mark": "point"},
{"width": 75, "height": 51, "data": {"values": [{}]}, "mark": {"type": "rule", "color": "black", "strokeWidth": 1.5}, "encoding": {"x": {"datum": 0, "type": "quantitative", "scale": {"domain": [0, 1]}, "axis": null}}},
{"width": 227, "height": 51, "data": {"values": []}, "mark": "point"},
{"width": 42, "height": 51, "data": {"values": []}, "mark": "point"},
{"width": 61, "height": 51, "data": {"values": [{}]}, "mark": {"type": "rule", "color": "black", "strokeWidth": 1.5}, "encoding": {"x": {"datum": 0, "type": "quantitative", "scale": {"domain": [0, 1]}, "axis": null}}},
{"width": 229, "height": 51, "data": {"values": []}, "mark": "point"},
{"width": 37, "height": 51, "data": {"values": []}, "mark": "point"},
{"width": 62, "height": 51, "data": {"values": [{}]}, "mark": {"type": "rule", "color": "black", "strokeWidth": 1.5}, "encoding": {"x": {"datum": 0, "type": "quantitative", "scale": {"domain": [0, 1]}, "axis": null}}},
{"width": 227, "height": 51, "data": {"values": []}, "mark": "point"},
{"width": 35, "height": 51, "data": {"values": []}, "mark": "point"}
]}
]
}
